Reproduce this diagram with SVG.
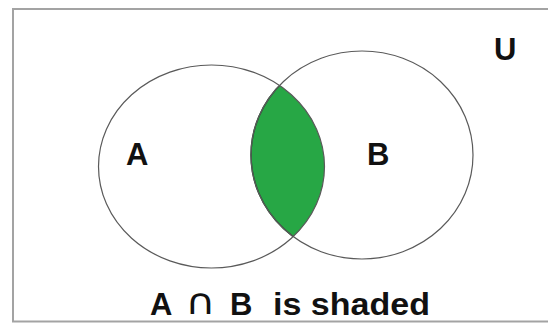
<svg xmlns="http://www.w3.org/2000/svg" width="548" height="323" viewBox="0 0 548 323">
<style>
.set{fill:none;stroke:#5a5a5a;stroke-width:1.2}
.lbl{font-family:"Liberation Sans",Arial,sans-serif;font-weight:bold;font-size:31px;fill:#111}
</style>
<defs>
<clipPath id="clipA"><ellipse cx="211.5" cy="166.5" rx="113" ry="101.5"/></clipPath>
</defs>
<rect x="13" y="9" width="545" height="312.5" fill="#fff" stroke="#a3a3a3" stroke-width="2"/>
<g id="intersection">
<ellipse cx="362" cy="155" rx="111" ry="104" fill="#27a745" stroke="#1d4d2a" stroke-width="1.5" clip-path="url(#clipA)"/>
</g>
<g id="setA">
<ellipse class="set" cx="211.5" cy="166.5" rx="113" ry="101.5"/>
<text class="lbl" x="126" y="165">A</text>
</g>
<g id="setB">
<ellipse class="set" cx="362" cy="155" rx="111" ry="104"/>
<text class="lbl" x="367" y="165">B</text>
</g>
<g id="universe">
<text class="lbl" x="494" y="60">U</text>
</g>
<g id="caption">
<text class="lbl" x="150" y="315">A</text>
<text transform="translate(185,314) scale(1.15,1)" x="0" y="0" font-family="DejaVu Sans,sans-serif" font-size="36" fill="#111">∩</text>
<text class="lbl" x="230" y="315">B</text>
<text class="lbl" x="273" y="315" textLength="157" lengthAdjust="spacingAndGlyphs">is shaded</text>
</g>
</svg>
